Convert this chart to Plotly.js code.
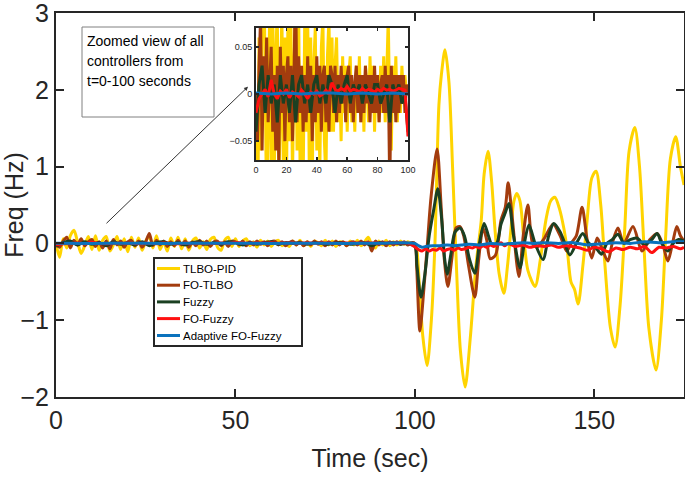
<!DOCTYPE html>
<html>
<head>
<meta charset="utf-8">
<script src="https://cdn.plot.ly/plotly-3.0.1.min.js"></script>
<style>html,body{margin:0;padding:0;background:#fff;}#chart{width:685px;height:477px;}</style>
</head>
<body>
<div id="chart"></div>
<script>
// ---------------- DATA ----------------
var seriesNames = ['TLBO-PID', 'FO-TLBO', 'Fuzzy', 'FO-Fuzzy', 'Adaptive FO-Fuzzy'];
var noteLines = ['Zoomed view of all', 'controllers from', 't=0-100 seconds'];

// time grids for the t = 0-100 s part
var tPre1 = []; for (var i = 0; i <= 100; i++) tPre1.push(i);
var tPre2 = []; for (var j = 0; j <= 100; j += 2) tPre2.push(j);
var tPre10 = [0, 10, 20, 30, 40, 50, 60, 70, 80, 90, 100];

// TLBO-PID, t = 0..100 (1 s step)
var tlboPre = [0,-0.18,0.06,-0.06,0.1,0.17,0.02,-0.13,-0.03,0.09,
  -0.08,0.1,-0.09,0.04,0.09,-0.1,-0.02,0.09,-0.08,0.06,
  -0.11,0.08,-0.05,0.07,-0.09,0.03,0.09,-0.06,0.1,-0.08,
  0.02,-0.1,0.07,-0.04,0.08,-0.07,0.06,-0.09,0.03,0.07,
  -0.06,0.02,-0.08,0.05,0.08,-0.05,-0.09,0.04,0.08,-0.04,
  0.06,-0.04,0.03,0.06,-0.03,0.02,-0.05,0.04,-0.02,0.03,
  -0.04,0.02,0.04,-0.03,0.01,-0.04,0.03,-0.02,0.04,-0.03,
  0.02,-0.04,0.03,0.01,-0.03,0.04,-0.02,0.03,-0.04,0.02,
  0.01,-0.03,0.03,-0.02,0.04,-0.03,0.02,0.08,-0.02,-0.06,
  0.03,-0.02,0.04,-0.03,0.02,-0.02,0.03,-0.01,0.02,0,0];
// FO-TLBO, t = 0..100 (1 s step)
var foTlboPre = [0,-0.05,0.03,0.08,-0.06,0.04,-0.02,0.06,-0.03,0.02,
  0.05,-0.04,0.02,-0.06,0.03,-0.07,0.05,-0.02,0.03,-0.05,
  0.02,0.04,-0.03,0.03,-0.05,0.02,0.13,-0.03,0.04,-0.02,
  0.03,-0.04,0.02,-0.03,0.04,-0.02,0.03,-0.05,0.02,-0.03,
  0.04,-0.02,0.03,-0.04,0.02,0.03,-0.03,0.02,-0.04,0.03,
  0.02,-0.02,0.03,-0.03,0.02,-0.02,0.03,-0.01,0.02,-0.03,
  0.02,0.03,-0.02,0.02,-0.03,0.01,0.03,-0.02,0.02,-0.03,
  0.02,-0.02,0.03,-0.01,0.02,-0.03,0.02,-0.02,0.03,-0.02,
  0.02,-0.03,0.01,0.02,-0.02,0.03,-0.02,0.02,-0.1,0.03,
  -0.02,0.02,-0.03,0.02,-0.02,0.02,-0.01,0.02,-0.02,0.01,0];
// Fuzzy, t = 0..100 (2 s step)
var fuzzyPre = [-0.04,0.01,0.03,-0.02,0.02,-0.01,0.01,-0.03,0.02,-0.01,
  0.01,-0.02,0.02,-0.03,0.01,0.02,-0.01,0.01,-0.02,0.01,
  0.02,-0.01,0.01,-0.01,0.02,0.01,-0.02,0.01,-0.01,0.01,
  0.02,-0.01,0.01,0,0.01,-0.01,0.01,0,-0.01,0.01,
  0.01,-0.01,0,0.01,-0.03,0.01,0,0.01,-0.01,0,-0.04];
// FO-Fuzzy, t = 0..100 (2 s step)
var foFuzzyPre = [-0.02,-0.005,0,0.005,-0.003,0.015,0,-0.005,0.003,0,
  0.005,-0.004,0.002,0,-0.003,0.004,0,-0.005,0.002,0,
  0.003,-0.002,0,0.004,0,0.012,0.005,0.003,0.006,0.004,
  0.008,0.003,0.005,0.004,0.002,0.006,0.003,0.005,0.004,0.002,
  0.005,0.003,0.006,0.004,0.005,0.003,0.004,0.006,0.005,0.004,-0.045];
// Adaptive FO-Fuzzy, t = 0..100 (10 s step)
var adaptivePre = [0.001,0,0.001,0,0.001,0.001,0,0.001,0,0.001,0];

// t > 100 s (disturbance response)
var tlboPostT = [100.6,101.2,102.2,103.4,104.6,105.6,106.7,107.4,108.4,109.5,110.5,111.5,112.7,114,115.5,117,118.5,119.3,120.4,121.4,122.3,123.5,124.8,125.8,126.8,127.6,128.4,129.3,130.3,131.5,133.5,135,136.5,137.8,139,140.3,141.5,142.5,143.5,144.5,145.5,146.8,148,149.3,150.5,151.8,153,154.5,155.8,157.2,158.5,159.7,161.3,162.6,163.8,165.2,167.2,168.7,169.9,171.2,172.7,174,175];
var tlboPostY = [-0.1,-0.5,-1.2,-1.59,-1.0,0,1.8,2.2,2.52,2.1,1.0,-0.2,-1.4,-1.87,-1.2,-0.3,0.3,0.9,1.2,0.8,0.2,-0.4,-0.65,-0.3,0.2,0.55,0.65,0.55,0.1,-0.35,-0.56,-0.2,0.3,0.55,0.6,0.45,0.2,-0.1,-0.5,-0.6,-0.79,-0.3,0.3,0.85,0.94,0.5,-0.3,-1.1,-1.35,-0.8,0.2,1.2,1.51,1.0,0,-1.1,-1.65,-1.0,0.1,1.1,1.39,1.0,0.76];

var foTlboPostT = [100.5,101.4,102.5,103.5,104.5,106.2,107.3,108.2,109.2,110.3,111.5,112.6,113.6,115,116.7,117.8,119,120,121,122.5,124,125.2,126,127,129,130.2,131.5,132.8,134,136,138.5,140.5,142.3,143.5,145,146.6,148,149.3,150.8,152,153.8,155,156.6,158.2,160.8,163.3,165.5,167.5,169,170.5,171.8,173,174,175];
var foTlboPostY = [-0.3,-1.14,-0.6,0,0.6,1.23,0.5,-0.2,-0.56,-0.2,0.2,0.22,0.1,-0.3,-0.7,-0.2,0.2,0.05,-0.2,-0.15,0.3,0.47,0.79,0.4,-0.43,0.1,0.5,0.0,-0.05,0.06,0.25,0.1,-0.1,0.0,0.1,0.47,0.05,-0.19,0.07,-0.05,-0.23,0.0,0.2,0.0,0.22,-0.1,0.05,0.13,0.0,-0.23,0.0,0.22,0.1,0.03];

var fuzzyPostT = [100.6,101.7,102.8,104,105.3,106.4,107.5,108.3,109,110,111.2,112.6,113.8,115.2,116.7,118,119.3,120.5,121.5,122.8,124,125.2,126.2,127.5,129.3,130.5,131.8,133.5,135.7,137.3,138.7,140.5,141.8,143.2,145,146.8,148.5,150.3,152,153.5,155,156.6,158.3,160,161.9,164,166,167.5,168.8,170.5,172,173.5,175];
var fuzzyPostY = [-0.3,-0.7,-0.4,0.1,0.45,0.71,0.3,-0.2,-0.4,-0.15,0.15,0.2,0.1,-0.2,-0.39,0.0,0.26,0.1,-0.02,0.0,0.25,0.4,0.52,0.1,-0.32,0.0,0.24,0.0,-0.21,0.1,0.26,0.15,0.0,-0.15,0.0,0.13,0.0,-0.05,-0.14,0.0,0.05,0.12,0.0,0.05,0.07,-0.02,0.05,0.13,0.0,-0.1,0.0,0.05,0.03];

var foFuzzyPostT = [101,102,103,104,105,106,107,108,109,110,111,112,113,114,115,116,117,118,119,120,121,122,123,124,125,126,127,128,130,132,134,136,138,140,142,144,146,148,150,152,154,156,158,160,162,164,166,168,170,172,174,175];
var foFuzzyPostY = [-0.08,-0.1,-0.07,-0.1,-0.08,-0.09,-0.06,-0.1,-0.08,-0.07,-0.09,-0.06,-0.08,-0.07,-0.05,-0.06,-0.04,-0.06,-0.03,-0.05,-0.02,-0.04,-0.02,0.01,-0.03,0.0,-0.02,-0.04,-0.02,-0.05,-0.03,-0.04,-0.02,-0.05,-0.03,-0.04,-0.06,-0.09,-0.05,-0.07,-0.11,-0.06,-0.08,-0.05,-0.07,-0.04,-0.12,-0.05,-0.06,-0.04,-0.07,-0.05];

var adaptivePostT = [101,102,103,105,107,109,111,113,115,118,121,124,127,130,133,136,140,144,148,150,153,156,160,164,168,172,175];
var adaptivePostY = [-0.03,-0.05,-0.04,-0.03,-0.03,-0.02,-0.03,-0.02,-0.01,-0.02,0.0,-0.01,0.0,0.01,0.0,0.01,0.0,0.01,-0.02,-0.01,0.0,0.01,0.0,0.02,0.01,0.02,0.02];

var xTicks = [0, 50, 100, 150];
var yTicks = [-2, -1, 0, 1, 2, 3];
var insetXTicks = [0, 20, 40, 60, 80, 100];
var insetYTicks = [-0.05, 0, 0.05];

// ---------------- STYLE ----------------
var colors = ['#FFD400', '#A33C0E', '#1B4022', '#FF1010', '#0A72BD'];
var fontFam = 'Liberation Sans, Arial, Helvetica, sans-serif';
var ink = '#262626';
var W = 685, H = 477, ML = 56, MR = 1, MT = 13, MB = 80;
function px2x(px) { return (px - ML) / (W - ML - MR); }
function px2y(py) { return (H - MB - py) / (H - MT - MB); }

var pre = [
  {t: tPre1, y: tlboPre, pt: tlboPostT, py: tlboPostY},
  {t: tPre1, y: foTlboPre, pt: foTlboPostT, py: foTlboPostY},
  {t: tPre2, y: fuzzyPre, pt: fuzzyPostT, py: fuzzyPostY},
  {t: tPre2, y: foFuzzyPre, pt: foFuzzyPostT, py: foFuzzyPostY},
  {t: tPre10, y: adaptivePre, pt: adaptivePostT, py: adaptivePostY}
];

var traces = [];
pre.forEach(function (s, k) {
  traces.push({
    type: 'scatter', mode: 'lines', name: seriesNames[k],
    x: s.t.concat(s.pt), y: s.y.concat(s.py),
    line: {color: colors[k], width: 3, shape: 'spline', smoothing: 0.8},
    xaxis: 'x', yaxis: 'y', showlegend: false
  });
});
pre.forEach(function (s, k) {
  traces.push({
    type: 'scatter', mode: 'lines', name: seriesNames[k],
    x: s.t, y: s.y,
    line: {color: colors[k], width: 3},
    xaxis: 'x2', yaxis: 'y2', showlegend: false, hoverinfo: 'skip'
  });
});

var axMain = {
  showgrid: false, zeroline: false, showline: true, linewidth: 2, linecolor: ink,
  mirror: 'ticks', ticks: 'inside', ticklen: 8, tickwidth: 2, tickcolor: ink,
  ticklabeloverflow: 'allow',
  tickfont: {size: 25, color: ink, family: fontFam}
};
var axInset = {
  showgrid: false, zeroline: false, showline: true, linewidth: 2, linecolor: ink,
  mirror: 'ticks', ticks: 'inside', ticklen: 3, tickwidth: 1.5, tickcolor: ink,
  ticklabeloverflow: 'allow',
  tickfont: {size: 9, color: ink, family: fontFam}
};

// legend box (drawn by hand to match the compact row spacing)
var shapes = [
  {type: 'rect', xref: 'paper', yref: 'paper', x0: px2x(154), x1: px2x(302), y0: px2y(346), y1: px2y(258),
   line: {color: ink, width: 2}, fillcolor: '#fff', layer: 'above'},
  {type: 'rect', xref: 'paper', yref: 'paper', x0: px2x(82), x1: px2x(214), y0: px2y(117), y1: px2y(27),
   line: {color: '#808080', width: 1}, fillcolor: '#fff', layer: 'above'}
];
var annotations = [];
var rowY = [268.5, 285.2, 301.9, 318.6, 335.5];
seriesNames.forEach(function (nm, k) {
  shapes.push({type: 'line', xref: 'paper', yref: 'paper', x0: px2x(157), x1: px2x(180),
    y0: px2y(rowY[k]), y1: px2y(rowY[k]), line: {color: colors[k], width: 3}, layer: 'above'});
  annotations.push({xref: 'paper', yref: 'paper', x: px2x(180.5), y: px2y(rowY[k]),
    xanchor: 'left', yanchor: 'middle', text: nm, showarrow: false,
    font: {size: 11.5, color: '#000', family: fontFam}});
});
var noteY = [41, 61, 81];
noteLines.forEach(function (ln, k) {
  annotations.push({xref: 'paper', yref: 'paper', x: px2x(84.5), y: px2y(noteY[k]),
    xanchor: 'left', yanchor: 'middle', text: ln, showarrow: false,
    font: {size: 14, color: '#000', family: fontFam}});
});
annotations.push({
  xref: 'x', yref: 'y', x: 53.5, y: 2.04, text: '',
  showarrow: true, arrowhead: 2, arrowsize: 0.8, arrowwidth: 1, arrowcolor: '#333',
  ax: -143, ay: 138, standoff: 0
});

var layout = {
  width: W, height: H,
  margin: {l: ML, r: MR, t: MT, b: MB},
  paper_bgcolor: '#fff', plot_bgcolor: '#fff',
  font: {family: fontFam, color: ink},
  xaxis: Object.assign({}, axMain, {
    range: [0, 175], tickvals: xTicks, domain: [0, 1], anchor: 'y',
    title: {text: 'Time (sec)', font: {size: 25, color: ink}, standoff: 16}
  }),
  yaxis: Object.assign({}, axMain, {
    range: [-2, 3], tickvals: yTicks, domain: [0, 1], anchor: 'x',
    title: {text: 'Freq (Hz)', font: {size: 25, color: ink}, standoff: 4}
  }),
  xaxis2: Object.assign({}, axInset, {
    range: [0, 100], tickvals: insetXTicks, domain: [px2x(256), px2x(408)], anchor: 'y2'
  }),
  yaxis2: Object.assign({}, axInset, {
    range: [-0.07, 0.07], tickvals: insetYTicks, domain: [px2y(160), px2y(28)], anchor: 'x2'
  }),
  showlegend: false,
  shapes: shapes,
  annotations: annotations
};

Plotly.newPlot('chart', traces, layout, {displayModeBar: false, staticPlot: true});
</script>
</body>
</html>
